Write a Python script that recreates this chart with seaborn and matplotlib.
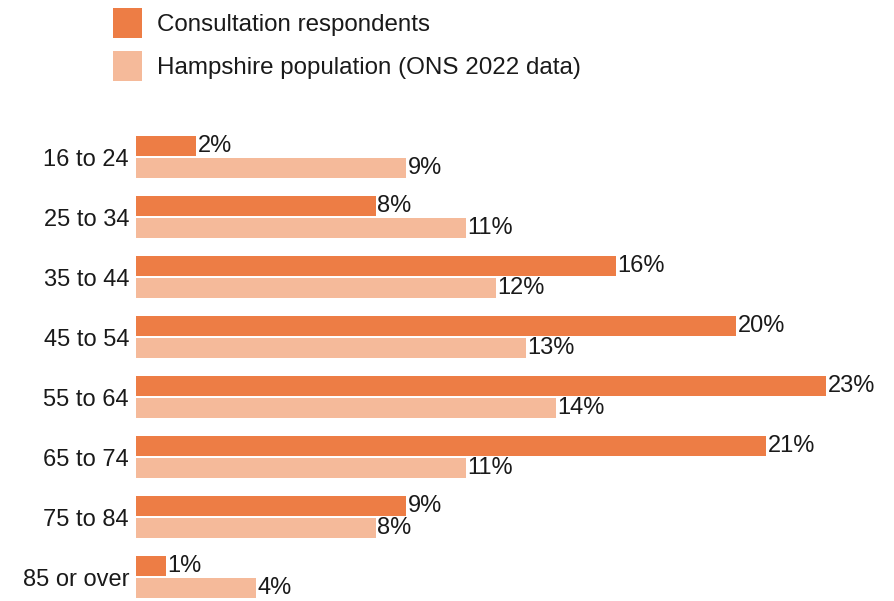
import matplotlib
matplotlib.use("Agg")
import matplotlib.pyplot as plt
import seaborn as sns
import pandas as pd

age_bands = ["16 to 24", "25 to 34", "35 to 44", "45 to 54",
             "55 to 64", "65 to 74", "75 to 84", "85 or over"]
respondents = [2, 8, 16, 20, 23, 21, 9, 1]
population = [9, 11, 12, 13, 14, 11, 8, 4]
series_names = ["Consultation respondents", "Hampshire population (ONS 2022 data)"]
colours = ["#ED7D45", "#F5BA9A"]

df = pd.DataFrame({
    "age": age_bands * 2,
    "pct": respondents + population,
    "group": [series_names[0]] * len(age_bands) + [series_names[1]] * len(age_bands),
})

sns.set_theme(style="white")
plt.rcParams["font.family"] = ["Liberation Sans", "DejaVu Sans"]

W, H = 895, 601
fig = plt.figure(figsize=(W / 100, H / 100), dpi=100)
# axes placed in pixel terms: bars start at x=136, category rows 60 px apart
ax_left, ax_right = 136, 885
ax_top, ax_bottom = 121, 598
ax = fig.add_axes([ax_left / W, (H - ax_bottom) / H,
                   (ax_right - ax_left) / W, (ax_bottom - ax_top) / H])

sns.barplot(data=df, y="age", x="pct", hue="group", orient="h",
            palette=colours, width=0.72, gap=0.08, ax=ax,
            legend=True, saturation=1, linewidth=0, edgecolor="none")

ax.set_xlim(0, (ax_right - ax_left) / 30.0)
ax.set_ylim(7.35, -0.6)
ax.set_xlabel("")
ax.set_ylabel("")
ax.set_xticks([])
for s in ax.spines.values():
    s.set_visible(False)
ax.tick_params(axis="y", length=0, pad=5, labelsize=17, labelcolor="#1a1a1a")

for cont in ax.containers:
    ax.bar_label(cont, fmt="%d%%", padding=1, fontsize=17, color="#1a1a1a")

handles, labels = ax.get_legend_handles_labels()
ax.get_legend().remove()
fig.legend(handles, labels, loc="upper left",
           bbox_to_anchor=(113 / W, 1 - 8 / H), frameon=False,
           fontsize=17.4, handlelength=1.22, handleheight=1.56,
           handletextpad=0.6, labelspacing=0.5, borderpad=0,
           borderaxespad=0, labelcolor="#1a1a1a")

fig.savefig("out.png", dpi=100)
